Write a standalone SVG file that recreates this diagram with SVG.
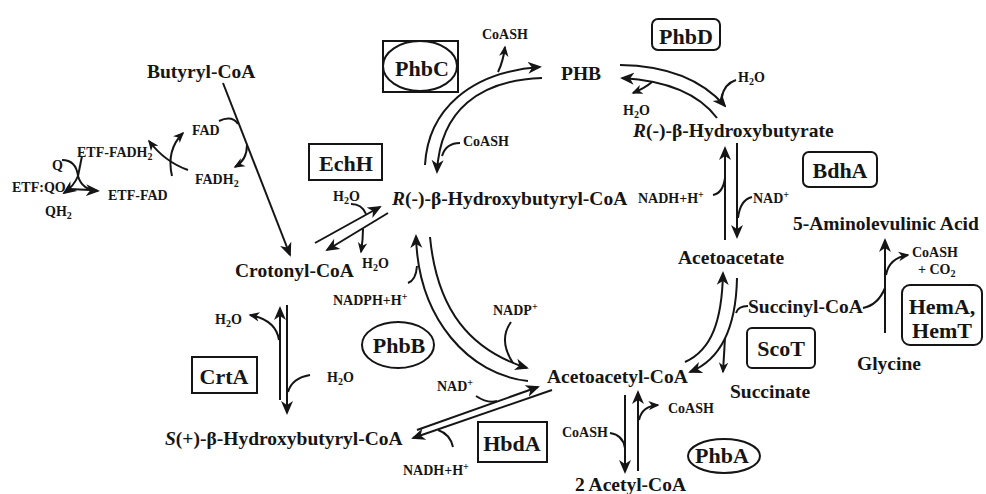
<svg xmlns="http://www.w3.org/2000/svg" width="986" height="494" viewBox="0 0 986 494">
<defs>
<style>
text{font-family:"Liberation Serif","Times New Roman",serif;font-weight:bold;fill:#151515}
.m{font-size:19.5px}
.s{font-size:14px}
.e{font-size:22px;text-anchor:middle}
.b{fill:none;stroke:#151515;stroke-width:2}
.c path{fill:none;stroke:#151515;stroke-width:2}
.c .a{marker-end:url(#ah)}
.c .t{marker-end:url(#as)}
</style>
<marker id="ah" viewBox="0 0 14 14" refX="12" refY="7" markerWidth="14" markerHeight="14" orient="auto" markerUnits="userSpaceOnUse"><path d="M0,1 L14,7 L0,13 L4,7 z" fill="#151515"/></marker>
<marker id="as" viewBox="0 0 14 14" refX="12" refY="7" markerWidth="11" markerHeight="11" orient="auto" markerUnits="userSpaceOnUse"><path d="M0,1 L14,7 L0,13 L4,7 z" fill="#151515"/></marker>
</defs>
<rect width="986" height="494" fill="#fff"/>

<g id="connectors" class="c">
<!-- Butyryl -> Crotonyl -->
<path class="a" d="M223,83 L290,255"/>
<path d="M219,121 Q232,115 238,124"/>
<path class="t" d="M247,145 Q247,160 235,167"/>
<!-- ETF cross -->
<path class="t" d="M172,176 Q166,150 183,133"/>
<path class="t" d="M188,170 Q165,162 149,141"/>
<!-- ETF:QO -->
<path d="M62,160 Q76,160 78,176"/>
<path d="M82,156 L78,176"/>
<path class="a" d="M78,176 Q74,186 64,193"/>
<path class="a" d="M78,176 Q82,190 98,191"/>
<path d="M70,189 L90,190"/>
<!-- EchH -->
<path class="a" d="M315,243 L380,207"/>
<path class="a" d="M388,213 L327,250"/>
<path d="M351,204 Q362,204 366,214"/>
<path class="t" d="M363,229 Q363,240 361,252"/>
<!-- PhbC -->
<path class="a" d="M425,165 C428,110 470,72 540,67"/>
<path class="a" d="M542,78 C480,80 440,110 437,172"/>
<path class="t" d="M498,72 Q503,62 505,47"/>
<path d="M460,143 Q446,143 442,156"/>
<!-- PhbD -->
<path class="a" d="M620,65 Q690,66 725,106"/>
<path class="a" d="M717,118 Q690,82 622,78"/>
<path d="M736,80 Q724,84 722,97"/>
<path class="t" d="M652,82 Q645,88 633,93"/>
<!-- BdhA -->
<path class="a" d="M725,240 L725,148"/>
<path class="a" d="M737,143 L737,237"/>
<path d="M713,195 Q723,193 725,178"/>
<path d="M752,197 Q740,200 738,218"/>
<!-- ScoT -->
<path class="a" d="M685,362 C712,350 722,320 723,273"/>
<path class="a" d="M737,278 C736,330 720,360 690,372"/>
<path d="M748,306 Q738,306 736,313"/>
<path class="t" d="M725,338 L723,372"/>
<!-- HemA/HemT -->
<path class="a" d="M885,333 L885,240"/>
<path d="M863,308 Q878,305 885,288"/>
<path class="t" d="M886,275 Q889,258 908,255"/>
<!-- PhbB -->
<path class="a" d="M528,381 C470,375 418,320 416,236"/>
<path class="a" d="M430,237 C437,310 470,350 527,368"/>
<path d="M511,322 Q498,340 513,363"/>
<path d="M408,283 Q416,280 417,266"/>
<!-- HbdA -->
<path class="a" d="M417,430 L538,387"/>
<path class="a" d="M552,390 L413,438"/>
<path d="M476,396 Q488,404 497,401"/>
<path d="M453,447 Q450,434 438,430"/>
<!-- CrtA -->
<path class="a" d="M280,400 L280,308"/>
<path class="a" d="M287,305 L287,413"/>
<path class="t" d="M279,340 Q276,320 250,315"/>
<path d="M310,375 Q292,378 288,392"/>
<!-- PhbA -->
<path class="a" d="M625,395 L625,472"/>
<path class="a" d="M638,471 L638,392"/>
<path d="M610,433 Q623,435 625,448"/>
<path class="t" d="M639,420 Q642,406 658,405"/>
</g>

<g id="butyryl"><text class="m" x="147" y="78">Butyryl-CoA</text></g>
<g id="phb"><text class="m" x="561" y="80">PHB</text></g>
<g id="r3hb"><text class="m" x="633" y="137"><tspan font-style="italic">R</tspan>(-)-β-Hydroxybutyrate</text></g>
<g id="r3hbcoa"><text class="m" x="392" y="205"><tspan font-style="italic">R</tspan>(-)-β-Hydroxybutyryl-CoA</text></g>
<g id="ala"><text class="m" x="793" y="230">5-Aminolevulinic Acid</text></g>
<g id="acetoacetate"><text class="m" x="678" y="264">Acetoacetate</text></g>
<g id="crotonyl"><text class="m" x="235" y="277">Crotonyl-CoA</text></g>
<g id="succinylcoa"><text class="m" x="748" y="313">Succinyl-CoA</text></g>
<g id="glycine"><text class="m" x="857" y="370">Glycine</text></g>
<g id="acetoacetylcoa"><text class="m" x="547" y="383">Acetoacetyl-CoA</text></g>
<g id="succinate"><text class="m" x="730" y="398">Succinate</text></g>
<g id="s3hbcoa"><text class="m" x="165" y="445"><tspan font-style="italic">S</tspan>(+)-β-Hydroxybutyryl-CoA</text></g>
<g id="acetylcoa"><text class="m" x="575" y="491">2 Acetyl-CoA</text></g>

<g id="cofactors">
<text class="s" x="482" y="39">CoASH</text>
<text class="s" x="463" y="146">CoASH</text>
<text class="s" x="738" y="82">H<tspan font-size="10" dy="3">2</tspan><tspan dy="-3">O</tspan></text>
<text class="s" x="623" y="115">H<tspan font-size="10" dy="3">2</tspan><tspan dy="-3">O</tspan></text>
<text class="s" x="192" y="135">FAD</text>
<text class="s" x="195" y="184">FADH<tspan font-size="10" dy="3">2</tspan></text>
<text class="s" x="77" y="157">ETF-FADH<tspan font-size="10" dy="3">2</tspan></text>
<text class="s" x="52" y="170">Q</text>
<text class="s" x="12" y="192">ETF:QO</text>
<text class="s" x="45" y="216">QH<tspan font-size="10" dy="3">2</tspan></text>
<text class="s" x="108" y="200">ETF-FAD</text>
<text class="s" x="333" y="201">H<tspan font-size="10" dy="3">2</tspan><tspan dy="-3">O</tspan></text>
<text class="s" x="638" y="203">NADH+H<tspan font-size="10" dy="-5">+</tspan></text>
<text class="s" x="753" y="203">NAD<tspan font-size="10" dy="-5">+</tspan></text>
<text class="s" x="912" y="257">CoASH</text>
<text class="s" x="918" y="274">+ CO<tspan font-size="10" dy="3">2</tspan></text>
<text class="s" x="362" y="268">H<tspan font-size="10" dy="3">2</tspan><tspan dy="-3">O</tspan></text>
<text class="s" x="333" y="305">NADPH+H<tspan font-size="10" dy="-5">+</tspan></text>
<text class="s" x="493" y="315">NADP<tspan font-size="10" dy="-5">+</tspan></text>
<text class="s" x="215" y="324">H<tspan font-size="10" dy="3">2</tspan><tspan dy="-3">O</tspan></text>
<text class="s" x="327" y="382">H<tspan font-size="10" dy="3">2</tspan><tspan dy="-3">O</tspan></text>
<text class="s" x="437" y="391">NAD<tspan font-size="10" dy="-5">+</tspan></text>
<text class="s" x="668" y="413">CoASH</text>
<text class="s" x="562" y="437">CoASH</text>
<text class="s" x="403" y="475">NADH+H<tspan font-size="10" dy="-5">+</tspan></text>
</g>

<g id="PhbC"><rect class="b" x="383" y="41" width="75" height="51"/><ellipse class="b" cx="420" cy="66" rx="37" ry="25"/><text class="e" x="422" y="76">PhbC</text></g>
<g id="PhbD"><rect class="b" x="652" y="19" width="68" height="31" rx="6"/><text class="e" x="686" y="44">PhbD</text></g>
<g id="EchH"><rect class="b" x="309" y="144" width="73" height="36"/><text class="e" x="346" y="171">EchH</text></g>
<g id="BdhA"><rect class="b" x="803" y="152" width="74" height="35" rx="6"/><text class="e" x="840" y="178">BdhA</text></g>
<g id="CrtA"><rect class="b" x="192" y="357" width="65" height="36"/><text class="e" x="224" y="384">CrtA</text></g>
<g id="PhbB"><ellipse class="b" cx="398" cy="345" rx="36" ry="23"/><text class="e" x="399" y="353">PhbB</text></g>
<g id="HbdA"><rect class="b" x="478" y="422" width="69" height="40"/><text class="e" x="512" y="451">HbdA</text></g>
<g id="ScoT"><rect class="b" x="747" y="328" width="68" height="40" rx="5"/><text class="e" x="781" y="356">ScoT</text></g>
<g id="PhbA"><ellipse class="b" cx="724" cy="456" rx="36" ry="17"/><text class="e" x="722" y="463">PhbA</text></g>
<g id="HemAT"><rect class="b" x="902" y="285" width="80" height="60" rx="8"/><text class="e" x="942" y="314">HemA,</text><text class="e" x="942" y="338">HemT</text></g>
</svg>
